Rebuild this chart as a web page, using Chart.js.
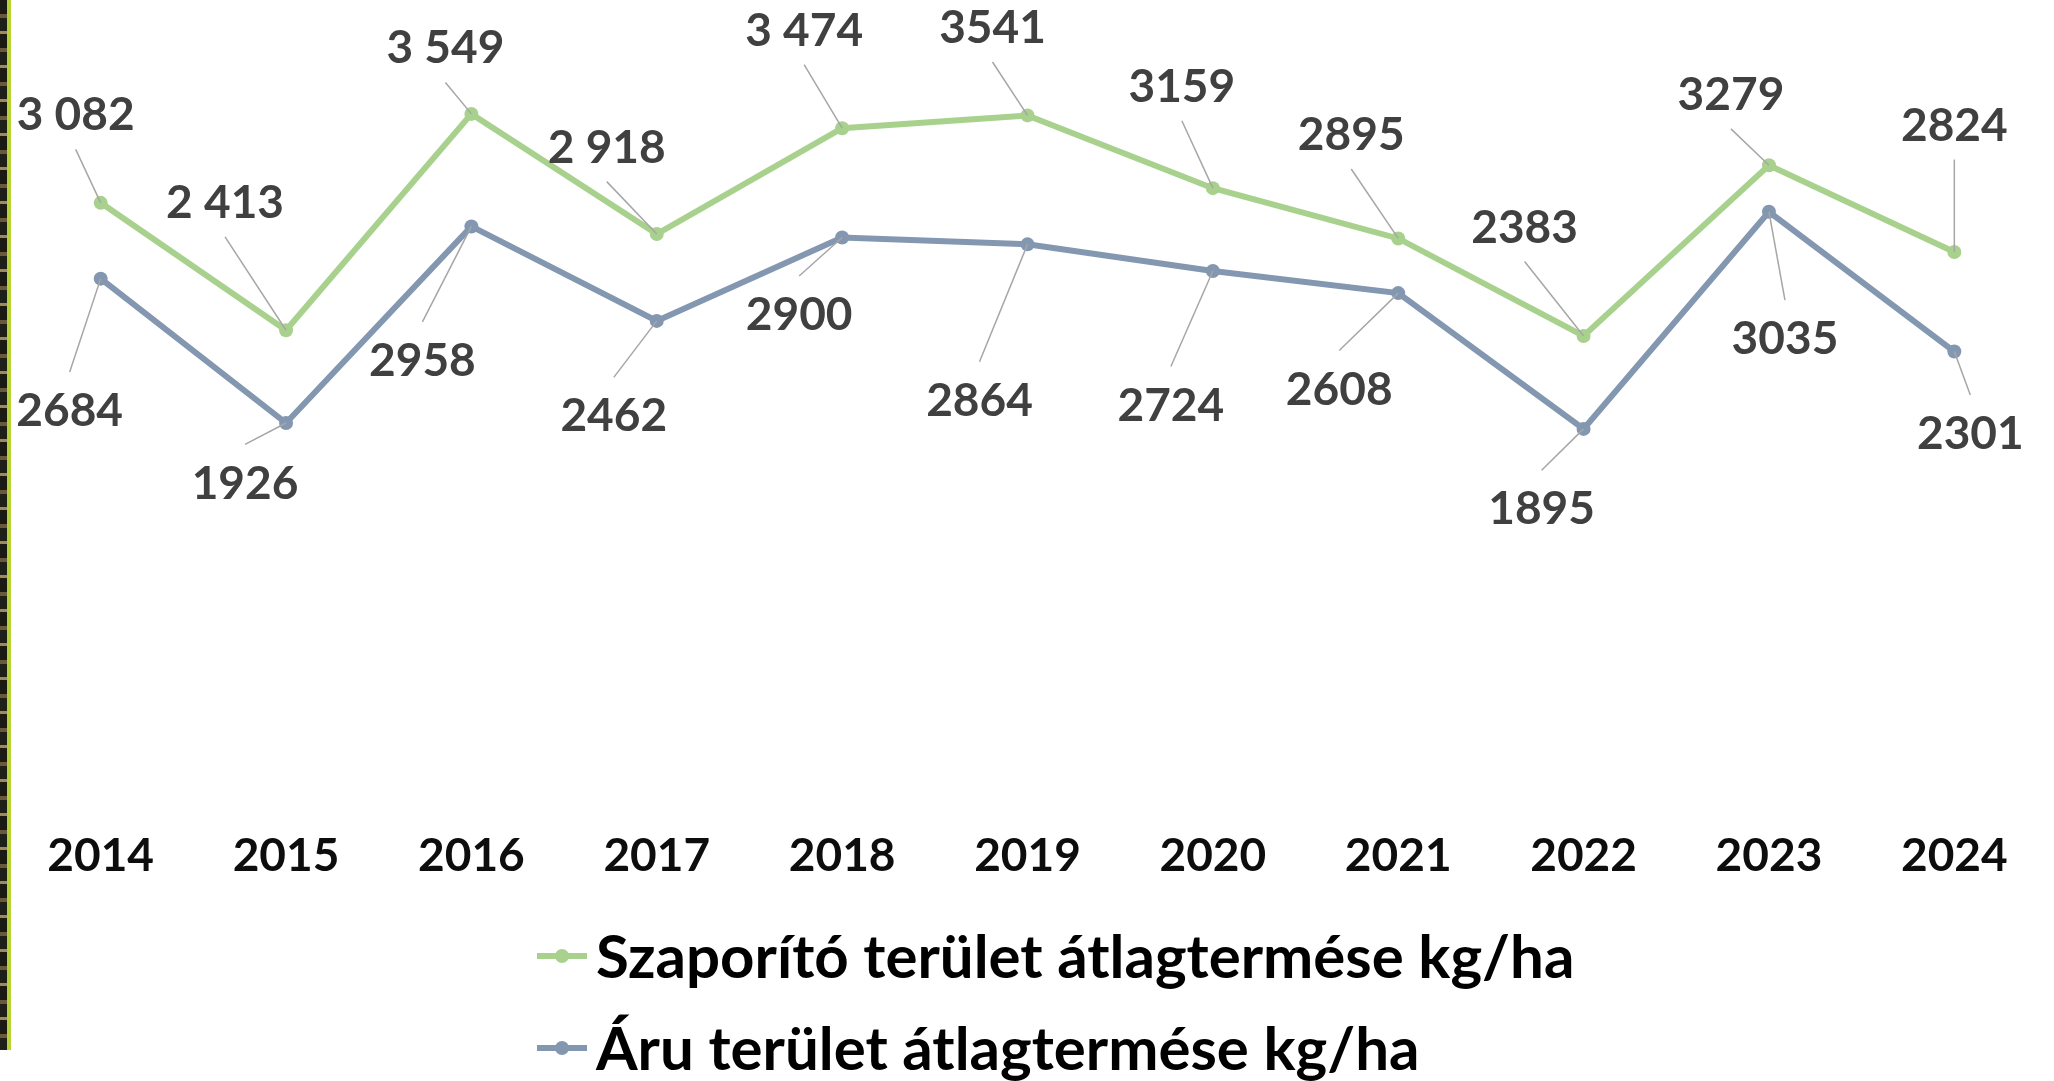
<!DOCTYPE html>
<html>
<head>
<meta charset="utf-8">
<script src="https://cdn.jsdelivr.net/npm/chart.js@4.4.1/dist/chart.umd.min.js"></script>
<style>
  html, body { margin: 0; padding: 0; background: #fff; }
  #wrap { position: relative; width: 2054px; height: 1081px; }
  #edge { position: absolute; left: 0; top: 0; width: 7px; height: 1050px;
          background: repeating-linear-gradient(180deg, #1c1a14 0 14px, #6b5a3a 14px 18px, #20201a 18px 31px, #a08a5c 31px 34px); }
  #rule { position: absolute; left: 7px; top: 0; width: 4px; height: 1050px; background: #b5d334; }
  canvas { position: absolute; left: 0; top: 0; }
</style>
</head>
<body>
<div id="wrap">
  <canvas id="yield-chart" width="2054" height="1081"></canvas>
  <div id="edge"></div>
  <div id="rule"></div>
</div>
<script>
// ── DATA ─────────────────────────────────────────
const years = ['2014', '2015', '2016', '2017', '2018', '2019', '2020', '2021', '2022', '2023', '2024'];

const seedName = 'Szaporító terület átlagtermése kg/ha';
const seedYield = [3082, 2413, 3549, 2918, 3474, 3541, 3159, 2895, 2383, 3279, 2824];
const seedLabels = ['3 082', '2 413', '3 549', '2 918', '3 474', '3541', '3159', '2895', '2383', '3279', '2824'];

const wareName = 'Áru terület átlagtermése kg/ha';
const wareYield = [2684, 1926, 2958, 2462, 2900, 2864, 2724, 2608, 1895, 3035, 2301];
const wareLabels = ['2684', '1926', '2958', '2462', '2900', '2864', '2724', '2608', '1895', '3035', '2301'];

// label placement relative to its point (px)
const seedOffsets = [[-25, -89], [-61, -129], [-26, -67], [-50, -88], [-38, -99], [-35, -89],
                     [-31, -103], [-47, -105], [-59, -110], [-38, -72], [0, -128]];
const wareOffsets = [[-31, 131], [-41, 59], [-49, 133], [-43, 94], [-43, 76], [-48, 155],
                     [-42, 133], [-59, 95], [-42, 79], [16, 126], [16, 81]];

// ── STYLE ────────────────────────────────────────
const FONT = 'Lato, "Open Sans", sans-serif';
const LABEL_SIZE = 46;
const LEGEND_SIZE = 60;
const GREEN = '#a9d18e';
const BLUE = '#8497b0';

// ── DATA LABELS WITH LEADER LINES ───────────────
const leaderLabels = {
  id: 'leaderLabels',
  afterDatasetsDraw(chart) {
    const ctx = chart.ctx;
    const capH = LABEL_SIZE * 0.72;
    chart.data.datasets.forEach((ds, di) => {
      const meta = chart.getDatasetMeta(di);
      meta.data.forEach((pt, i) => {
        const [dx, dy] = ds.labelOffsets[i];
        const cx = pt.x + dx;
        const cy = pt.y + dy;
        const ey = dy < 0 ? cy + capH / 2 + 19 : cy - capH / 2 - 21;
        ctx.save();
        ctx.strokeStyle = '#a6a6a6';
        ctx.lineWidth = 1.5;
        ctx.beginPath();
        ctx.moveTo(pt.x, pt.y);
        ctx.lineTo(cx, ey);
        ctx.stroke();
        ctx.fillStyle = '#404040';
        ctx.font = `bold ${LABEL_SIZE}px ${FONT}`;
        ctx.textAlign = 'center';
        ctx.textBaseline = 'alphabetic';
        ctx.fillText(ds.valueLabels[i], cx, cy + capH / 2);
        ctx.restore();
      });
    });
  }
};

// ── STACKED LEGEND ───────────────────────────────
const stackedLegend = {
  id: 'stackedLegend',
  afterDraw(chart) {
    const ctx = chart.ctx;
    const rows = [956, 1048];
    const capH = LEGEND_SIZE * 0.72;
    chart.data.datasets.forEach((ds, di) => {
      const y = rows[di];
      ctx.save();
      ctx.strokeStyle = ds.borderColor;
      ctx.lineWidth = 6;
      ctx.beginPath();
      ctx.moveTo(537, y);
      ctx.lineTo(587, y);
      ctx.stroke();
      ctx.fillStyle = ds.borderColor;
      ctx.beginPath();
      ctx.arc(562, y, 7, 0, Math.PI * 2);
      ctx.fill();
      ctx.fillStyle = '#000';
      ctx.font = `bold ${LEGEND_SIZE}px ${FONT}`;
      ctx.textAlign = 'left';
      ctx.textBaseline = 'alphabetic';
      ctx.fillText(ds.label, 596, y + capH / 2);
      ctx.restore();
    });
  }
};

function makeSeries(label, data, color, valueLabels, labelOffsets) {
  return {
    label,
    data,
    valueLabels,
    labelOffsets,
    borderColor: color,
    backgroundColor: color,
    pointBackgroundColor: color,
    pointBorderColor: color,
    borderWidth: 6,
    pointRadius: 7,
    pointBorderWidth: 0,
    tension: 0
  };
}

const ctx = document.getElementById('yield-chart').getContext('2d');
new Chart(ctx, {
  type: 'line',
  data: {
    labels: years,
    datasets: [
      makeSeries(seedName, seedYield, GREEN, seedLabels, seedOffsets),
      makeSeries(wareName, wareYield, BLUE, wareLabels, wareOffsets)
    ]
  },
  options: {
    responsive: false,
    animation: false,
    layout: { padding: { left: 8, right: 0, top: 28, bottom: 166 } },
    plugins: {
      legend: { display: false },
      tooltip: { enabled: false }
    },
    scales: {
      x: {
        offset: true,
        grid: { display: false },
        border: { display: false },
        ticks: {
          color: '#0d0d0d',
          padding: 31,
          font: { family: FONT, size: LABEL_SIZE, weight: 'bold' }
        }
      },
      y: {
        display: false,
        min: 0,
        max: 4000
      }
    }
  },
  plugins: [leaderLabels, stackedLegend]
});
</script>
</body>
</html>
